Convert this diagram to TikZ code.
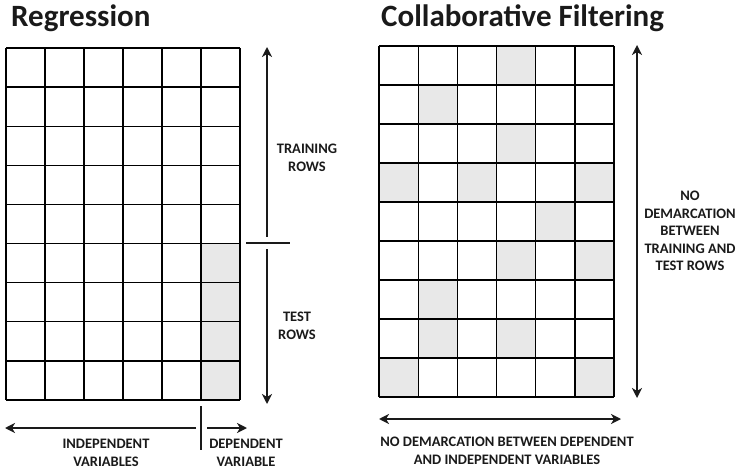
\documentclass[tikz,border=0pt]{standalone}
\usepackage{fontspec}
\setmainfont{Carlito}
\usetikzlibrary{arrows.meta,positioning}

\definecolor{cellgray}{HTML}{E8E8E8}
\definecolor{inkblack}{HTML}{1A1A1A}

\tikzset{
  cell/.style={draw=black,line width=1.3pt},
  span/.style={line width=2.8pt,draw=inkblack,-{Stealth[length=10pt,width=10pt,inset=3pt]}},
  twoway/.style={line width=2.8pt,draw=inkblack,
    {Stealth[length=10pt,width=10pt,inset=3pt]}-{Stealth[length=10pt,width=10pt,inset=3pt]}},
  splitmark/.style={line width=1.8pt,draw=inkblack},
  caption/.style={font=\bfseries\fontsize{14.5}{17.6}\selectfont,text=inkblack,align=center,inner sep=0pt},
  heading/.style={font=\bfseries\fontsize{31}{36}\selectfont,text=inkblack,anchor=base west,inner sep=0pt},
}

\begin{document}
\begin{tikzpicture}[x=1pt,y=-1pt]
\useasboundingbox (0,0) rectangle (738,470);

% ---------------- titles ----------------
\node[heading] (regTitle) at (11,27) {Regression};
\node[heading] (cfTitle) at (381,27) {Collaborative Filtering};

% ---------------- regression table: 9 rows x 6 columns ----------------
\begin{scope}[shift={(6,48)},x=39pt,y=-39.11pt]
  \foreach \r in {5,...,8}
    \fill[cellgray] (5,\r) rectangle (6,\r+1);   % dependent column, test rows
  \foreach \c in {0,...,6}
    \draw[cell] (\c,0) -- (\c,9);
  \foreach \r in {0,...,9}
    \draw[cell] (0,\r) -- (6,\r);
\end{scope}

% ---------------- collaborative filtering table ----------------
\begin{scope}[shift={(379,46)},x=39.17pt,y=-39pt]
  \foreach \c/\r in {3/0,1/1,3/2,0/3,2/3,5/3,4/4,3/5,5/5,1/6,1/7,3/7,0/8,5/8}
    \fill[cellgray] (\c,\r) rectangle (\c+1,\r+1);
  \foreach \c in {0,...,6}
    \draw[cell] (\c,0) -- (\c,9);
  \foreach \r in {0,...,9}
    \draw[cell] (0,\r) -- (6,\r);
\end{scope}

% ---------------- regression: row split ----------------
\coordinate (trainTop) at (267,47);
\coordinate (trainEnd) at (267,237);
\coordinate (testStart) at (267,249);
\coordinate (testBot) at (267,404);
\coordinate (rowSplitL) at (246,243);
\coordinate (rowSplitR) at (290,243);
\draw[span] (trainEnd) -- (trainTop);
\draw[span] (testStart) -- (testBot);
\draw[splitmark] (rowSplitL) -- (rowSplitR);
\node[caption] (trainLbl) at (307,158) {TRAINING\\ROWS};
\node[caption] (testLbl) at (297,326) {TEST\\ROWS};

% ---------------- regression: column split ----------------
\coordinate (indepEnd) at (196,428);
\coordinate (indepTip) at (5,428);
\coordinate (depStart) at (207,428);
\coordinate (depTip) at (247,428);
\coordinate (colSplitT) at (201,406);
\coordinate (colSplitB) at (201,450);
\draw[span] (indepEnd) -- (indepTip);
\draw[span] (depStart) -- (depTip);
\draw[splitmark] (colSplitT) -- (colSplitB);
\node[caption] (indepLbl) at (106,453) {INDEPENDENT\\VARIABLES};
\node[caption] (depLbl) at (246,453) {DEPENDENT\\VARIABLE};

% ---------------- collaborative filtering: no split ----------------
\coordinate (cfTop) at (637,45);
\coordinate (cfBot) at (637,398);
\coordinate (cfLeft) at (379,419);
\coordinate (cfRight) at (621,419);
\draw[twoway] (cfTop) -- (cfBot);
\draw[twoway] (cfLeft) -- (cfRight);
\node[caption] (cfRowLbl) at (690,231)
  {NO\\DEMARCATION\\BETWEEN\\TRAINING AND\\TEST ROWS};
\node[caption] (cfColLbl) at (507,451)
  {NO DEMARCATION BETWEEN DEPENDENT\\AND INDEPENDENT VARIABLES};
\end{tikzpicture}
\end{document}
